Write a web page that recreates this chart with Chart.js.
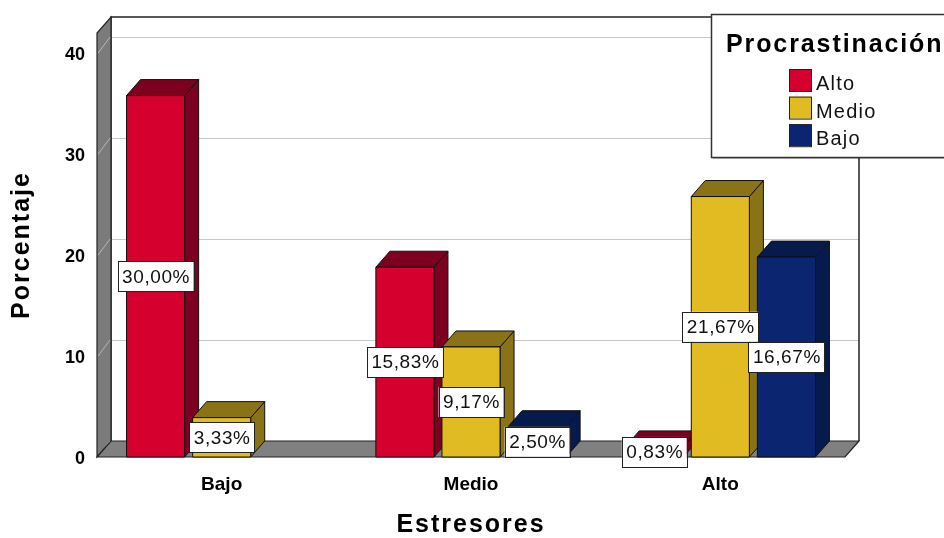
<!DOCTYPE html>
<html>
<head>
<meta charset="utf-8">
<script src="https://cdn.jsdelivr.net/npm/chart.js@4.4.1/dist/chart.umd.min.js"></script>
<style>
  body { margin: 0; background: #fff; }
  canvas { display: block; }
</style>
</head>
<body>
<canvas id="grafico" width="944" height="538"></canvas>
<script>
// datos
const categorias = ['Bajo', 'Medio', 'Alto'];
const series = ['Alto', 'Medio', 'Bajo'];
const valoresAlto = [35.8, 18.8, 1.0];
const valoresMedio = [3.9, 10.9, 25.8];
const valoresBajo = [null, 3.0, 19.8];
const etiquetasAlto = ['30,00%', '15,83%', '0,83%'];
const etiquetasMedio = ['3,33%', '9,17%', '21,67%'];
const etiquetasBajo = ['', '2,50%', '16,67%'];
const ticksY = [0, 10, 20, 30, 40];

const coloresFrente = ['#d6002f', '#e1bb22', '#0b2571'];
const coloresOscuros = ['#7e0021', '#8a7217', '#061a4c'];
const etiquetas = [etiquetasAlto, etiquetasMedio, etiquetasBajo];

const DX = 14, DY = -16; // profundidad 3D
const FUENTE = "'Liberation Sans', Arial, sans-serif";

function poligono(ctx, pts, relleno, borde) {
  ctx.beginPath();
  ctx.moveTo(pts[0][0], pts[0][1]);
  for (let i = 1; i < pts.length; i++) ctx.lineTo(pts[i][0], pts[i][1]);
  ctx.closePath();
  if (relleno) { ctx.fillStyle = relleno; ctx.fill(); }
  if (borde) { ctx.strokeStyle = borde; ctx.stroke(); }
}

const plugin3D = {
  id: 'plugin3D',
  beforeDraw(chart) {
    // espaciado de letras para los titulos de los ejes
    Object.values(chart.scales).forEach(s => {
      if (s._parcheado) return;
      const original = s.drawTitle.bind(s);
      s.drawTitle = function () {
        const c = this.ctx;
        c.save();
        c.letterSpacing = '2px';
        original();
        c.restore();
      };
      s._parcheado = true;
    });
  },
  beforeDatasetsDraw(chart) {
    const ctx = chart.ctx;
    const { left, right, top, bottom } = chart.chartArea;
    const y = chart.scales.y;
    ctx.save();
    ctx.lineWidth = 1;
    // pared del fondo
    ctx.fillStyle = '#fff';
    ctx.fillRect(left + DX, top + DY, right - left, bottom - top);
    ctx.strokeStyle = '#c8c8c8';
    ticksY.forEach(v => {
      if (v === 0) return;
      const py = Math.round(y.getPixelForValue(v)) + 0.5;
      ctx.beginPath();
      ctx.moveTo(left + DX, py + DY);
      ctx.lineTo(right + DX, py + DY);
      ctx.stroke();
    });
    ctx.lineWidth = 1.5;
    ctx.strokeStyle = '#222';
    ctx.beginPath();
    ctx.moveTo(left + DX, bottom + DY);
    ctx.lineTo(left + DX, top + DY);
    ctx.lineTo(right + DX, top + DY);
    ctx.lineTo(right + DX, bottom + DY);
    ctx.stroke();
    // pared izquierda
    ctx.lineWidth = 1.2;
    poligono(ctx, [[left, bottom], [left, top], [left + DX, top + DY], [left + DX, bottom + DY]], '#7b7b7b', '#222');
    ctx.strokeStyle = '#b8b8b8';
    ctx.lineWidth = 1;
    ticksY.forEach(v => {
      const py = y.getPixelForValue(v);
      ctx.beginPath();
      ctx.moveTo(left + 1, py);
      ctx.lineTo(left + DX - 1, py + DY);
      ctx.stroke();
    });
    // piso
    ctx.lineWidth = 1.2;
    poligono(ctx, [[left, bottom], [right, bottom], [right + DX, bottom + DY], [left + DX, bottom + DY]], '#808080', '#222');
    ctx.restore();
  },
  afterDatasetsDraw(chart) {
    const ctx = chart.ctx;
    ctx.save();
    ctx.lineWidth = 1;
    const n = categorias.length;
    for (let i = 0; i < n; i++) {
      chart.data.datasets.forEach((ds, d) => {
        if (ds.data[i] === null) return;
        const bar = chart.getDatasetMeta(d).data[i];
        const x1 = bar.x - bar.width / 2, x2 = bar.x + bar.width / 2;
        const yt = bar.y, yb = bar.base;
        // lado
        poligono(ctx, [[x2, yt], [x2 + DX, yt + DY], [x2 + DX, yb + DY], [x2, yb]], coloresOscuros[d], '#111');
        // tapa
        poligono(ctx, [[x1, yt], [x2, yt], [x2 + DX, yt + DY], [x1 + DX, yt + DY]], coloresOscuros[d], '#111');
        // frente
        poligono(ctx, [[x1, yt], [x2, yt], [x2, yb], [x1, yb]], coloresFrente[d], '#111');
      });
    }
    // etiquetas de porcentaje
    ctx.font = '19px ' + FUENTE;
    ctx.letterSpacing = '0.6px';
    ctx.textAlign = 'center';
    ctx.textBaseline = 'middle';
    chart.data.datasets.forEach((ds, d) => {
      chart.getDatasetMeta(d).data.forEach((bar, i) => {
        const txt = etiquetas[d][i];
        if (!txt) return;
        const cx = bar.x, cy = (bar.y + bar.base) / 2;
        const w = ctx.measureText(txt).width + 8, h = 30;
        ctx.fillStyle = '#fff';
        ctx.fillRect(cx - w / 2, cy - h / 2, w, h);
        ctx.strokeStyle = '#222';
        ctx.strokeRect(Math.round(cx - w / 2) + 0.5, Math.round(cy - h / 2) + 0.5, Math.round(w), h);
        ctx.fillStyle = '#111';
        ctx.fillText(txt, cx + 0.5, cy + 1);
      });
    });
    ctx.restore();
  },
  afterDraw(chart) {
    // leyenda
    const ctx = chart.ctx;
    ctx.save();
    ctx.fillStyle = 'rgba(0,0,0,0.25)';
    ctx.fillRect(713, 157, 240, 2);
    ctx.fillStyle = '#fff';
    ctx.fillRect(711.5, 14.5, 250, 143);
    ctx.strokeStyle = '#333';
    ctx.lineWidth = 1.5;
    ctx.strokeRect(711.5, 14.5, 250, 143);
    ctx.fillStyle = '#000';
    ctx.textAlign = 'left';
    ctx.textBaseline = 'alphabetic';
    ctx.font = 'bold 25px ' + FUENTE;
    ctx.letterSpacing = '1.9px';
    ctx.fillText('Procrastinación', 726, 52);
    ctx.font = '20px ' + FUENTE;
    ctx.letterSpacing = '1.2px';
    series.forEach((nombre, k) => {
      const yy = 69 + k * 27.6;
      ctx.fillStyle = coloresFrente[k];
      ctx.fillRect(789, yy, 22, 22);
      ctx.strokeStyle = '#222';
      ctx.lineWidth = 1;
      ctx.strokeRect(789.5, yy + 0.5, 22, 22);
      ctx.fillStyle = '#111';
      ctx.fillText(nombre, 816, yy + 21);
    });
    ctx.restore();
  }
};

const datasets = [valoresAlto, valoresMedio, valoresBajo].map((vals, d) => ({
  label: series[d],
  data: vals,
  backgroundColor: coloresFrente[d],
  borderColor: '#111',
  borderWidth: 0,
  categoryPercentage: 0.795,
  barPercentage: 0.879
}));

new Chart(document.getElementById('grafico'), {
  type: 'bar',
  data: { labels: categorias, datasets: datasets },
  options: {
    responsive: false,
    animation: false,
    layout: { padding: { left: 0, right: 99, top: 33, bottom: 0 } },
    plugins: {
      legend: { display: false },
      tooltip: { enabled: false }
    },
    scales: {
      x: {
        grid: { display: false },
        border: { display: false },
        ticks: {
          color: '#000',
          padding: 8,
          font: { family: FUENTE, size: 19, weight: 'bold' }
        },
        title: {
          display: true,
          text: 'Estresores',
          color: '#000',
          padding: { top: 0, bottom: 0 },
          font: { family: FUENTE, size: 25, weight: 'bold', lineHeight: 1 }
        },
        afterFit(scale) { scale.height = 81; }
      },
      y: {
        min: 0,
        max: 42,
        grid: { display: false, drawTicks: false },
        border: { display: false },
        afterBuildTicks(scale) {
          scale.ticks = ticksY.map(v => ({ value: v }));
        },
        ticks: {
          color: '#000',
          padding: 12,
          labelOffset: 2,
          font: { family: FUENTE, size: 18, weight: 'bold' }
        },
        title: {
          display: true,
          text: 'Porcentaje',
          color: '#000',
          padding: { top: 10, bottom: 0 },
          font: { family: FUENTE, size: 25, weight: 'bold', lineHeight: 1 }
        },
        afterFit(scale) { scale.width = 97; }
      }
    }
  },
  plugins: [plugin3D]
});
</script>
</body>
</html>
